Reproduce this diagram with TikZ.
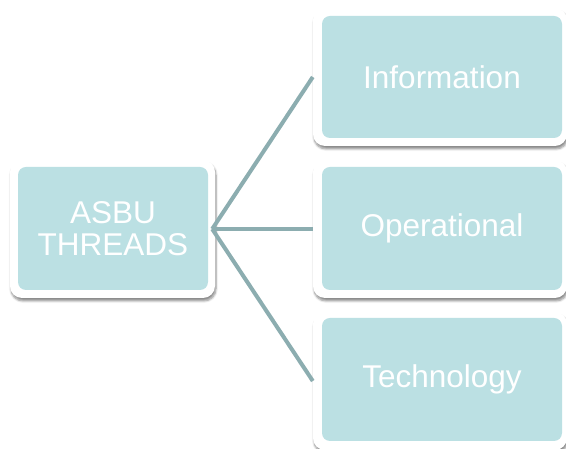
\documentclass[tikz,border=0pt]{standalone}
\usepackage{fontspec}
\setmainfont{Liberation Sans}
\usetikzlibrary{shadows.blur}
\definecolor{boxfill}{HTML}{BBE0E3}
\definecolor{linkcol}{HTML}{8CADB0}
\tikzset{
  frame/.style={draw=none, fill=white, rounded corners=12pt, inner sep=0pt,
    blur shadow={shadow xshift=1pt, shadow yshift=-3pt, shadow blur steps=6, shadow opacity=45}},
  panel/.style={draw=none, fill=boxfill, rounded corners=8pt, inner sep=0pt, align=center,
    text=white, font=\fontsize{31.5}{32}\selectfont},
  link/.style={draw=linkcol, line width=4pt}
}
\begin{document}
\begin{tikzpicture}[x=1pt,y=1pt]
\useasboundingbox (0,0) rectangle (566,449);
% root
\node[frame, minimum width=205pt, minimum height=138pt] (root) at (112.5,220) {};
\node[panel, minimum width=190pt, minimum height=123pt] (rootin) at (113,220.5) {ASBU\\THREADS};
% children
\node[frame, minimum width=254pt, minimum height=138pt] (info) at (440,372) {};
\node[panel, minimum width=240pt, minimum height=122pt] (infoin) at (442,372) {Information};
\node[frame, minimum width=254pt, minimum height=138pt] (oper) at (440,220) {};
\node[panel, minimum width=240pt, minimum height=123pt] (operin) at (442,220.5) {Operational};
\node[frame, minimum width=254pt, minimum height=138pt] (tech) at (440,68) {};
\node[panel, minimum width=240pt, minimum height=123pt] (techin) at (442,69.5) {Technology};
% connectors
\draw[link] ([xshift=-3pt]root.east) -- (info.west);
\draw[link] ([xshift=-3pt]root.east) -- (oper.west);
\draw[link] ([xshift=-3pt]root.east) -- (tech.west);
\end{tikzpicture}
\end{document}
